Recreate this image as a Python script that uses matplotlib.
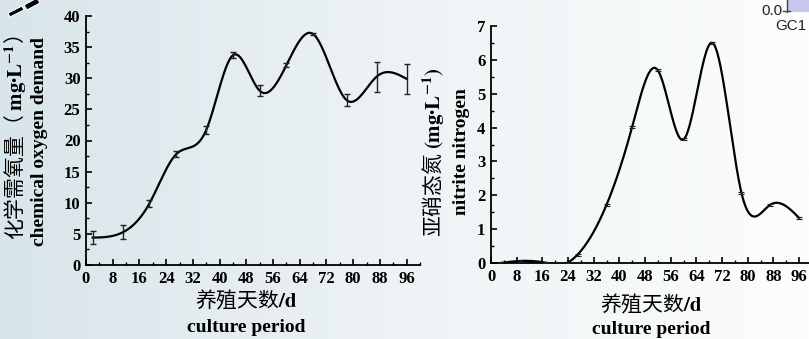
import numpy as np
import matplotlib
matplotlib.use("Agg")
import matplotlib.pyplot as plt
from matplotlib.ticker import MultipleLocator
from matplotlib.patches import Polygon, Rectangle
from matplotlib.font_manager import FontProperties

# ---------------- data ----------------
cod_days = [2, 11, 19, 27, 36, 44, 52, 60, 68, 78, 87, 96]
cod_vals = [4.4, 5.25, 9.9, 17.8, 21.7, 33.7, 28.0, 32.1, 37.1, 26.5, 30.25, 29.9]
cod_err = [1.0, 1.15, 0.6, 0.5, 0.6, 0.5, 0.9, 0.3, 0.2, 1.0, 2.4, 2.45]

no2_days = [3, 9, 17, 24, 27, 36, 44, 52, 60, 69, 78, 87, 96]
no2_vals = [0.0, 0.06, 0.01, 0.02, 0.25, 1.72, 4.03, 5.69, 3.65, 6.5, 2.08, 1.72, 1.33]
no2_err = [0.02, 0.02, 0.02, 0.02, 0.03, 0.03, 0.03, 0.03, 0.03, 0.04, 0.03, 0.03, 0.03]

x_ticks = [0, 8, 16, 24, 32, 40, 48, 56, 64, 72, 80, 88, 96]


def natural_spline(x, y, xs):
    x = np.asarray(x, float)
    y = np.asarray(y, float)
    n = len(x)
    h = np.diff(x)
    A = np.zeros((n, n))
    r = np.zeros(n)
    A[0, 0] = 1
    A[-1, -1] = 1
    for i in range(1, n - 1):
        A[i, i - 1] = h[i - 1]
        A[i, i] = 2 * (h[i - 1] + h[i])
        A[i, i + 1] = h[i]
        r[i] = 6 * ((y[i + 1] - y[i]) / h[i] - (y[i] - y[i - 1]) / h[i - 1])
    M = np.linalg.solve(A, r)
    idx = np.clip(np.searchsorted(x, xs) - 1, 0, n - 2)
    x0, x1 = x[idx], x[idx + 1]
    hh = x1 - x0
    return (M[idx] * (x1 - xs) ** 3 / (6 * hh) + M[idx + 1] * (xs - x0) ** 3 / (6 * hh)
            + (y[idx] / hh - M[idx] * hh / 6) * (x1 - xs)
            + (y[idx + 1] / hh - M[idx + 1] * hh / 6) * (xs - x0))


plt.rcParams['mathtext.fontset'] = 'stix'

W, H = 809, 339
fig = plt.figure(figsize=(W / 100, H / 100), dpi=100)

# background gradient
bg = fig.add_axes([0, 0, 1, 1], zorder=-10)
xs_bg = np.linspace(0, 1, 400)
c_left = np.array([216, 229, 234]) / 255
c_mid = np.array([238, 243, 245]) / 255
c_right = np.array([252, 253, 253]) / 255
grad = np.zeros((2, 400, 3))
for k, t in enumerate(xs_bg):
    if t < 0.5:
        c = c_left + (c_mid - c_left) * (t / 0.5)
    else:
        c = c_mid + (c_right - c_mid) * ((t - 0.5) / 0.5)
    grad[:, k, :] = c
bg.imshow(grad, aspect='auto', extent=[0, 1, 0, 1])
bg.set_xlim(0, 1)
bg.set_ylim(0, 1)
bg.axis('off')


def P(px, py):
    return (px / W, 1 - py / H)


# decorations (screenshot remnants)
bg.add_patch(Polygon([P(8, 13), P(22, 6), P(24, 10), P(10, 17)], closed=True,
                     facecolor='black', edgecolor='white', lw=0.8, transform=fig.transFigure))
bg.add_patch(Polygon([P(24, 5), P(37, -2), P(40, 3), P(27, 10)], closed=True,
                     facecolor='black', edgecolor='white', lw=0.8, transform=fig.transFigure))
bg.add_patch(Rectangle(P(787, 12), 25 / W, 14 / H, facecolor='#c9c6ee', edgecolor='none',
                       transform=fig.transFigure))
bg.plot([787 / W, 787 / W], [1 - 12 / H, 1.0], color='#444444', lw=1, transform=fig.transFigure)
bg.plot([783 / W, 790 / W], [1 - 11 / H, 1 - 11 / H], color='#444444', lw=1, transform=fig.transFigure)
fig.text(782 / W, 1 - 11 / H, '0.0', family='Liberation Sans', fontsize=11, ha='right', va='center', color='#222222')
fig.text(806 / W, 1 - 26 / H, 'GC1', family='Liberation Sans', fontsize=11, ha='right', va='center', color='#222222')

tick_fp = FontProperties(family='Liberation Serif', weight='bold', size=12)


def style_axes(ax, xmax, ymax, ymajor, yminor):
    ax.set_facecolor('none')
    ax.set_xlim(0, xmax)
    ax.set_ylim(0, ymax)
    for s in ['top', 'right']:
        ax.spines[s].set_visible(False)
    for s in ['left', 'bottom']:
        ax.spines[s].set_linewidth(1.3)
    ax.set_xticks(x_ticks)
    ax.xaxis.set_minor_locator(MultipleLocator(4))
    ax.yaxis.set_major_locator(MultipleLocator(ymajor))
    ax.yaxis.set_minor_locator(MultipleLocator(yminor))
    ax.tick_params(which='major', direction='in', length=4, width=1.2, pad=4)
    ax.tick_params(which='minor', direction='in', length=2, width=1.0)
    for lab in ax.get_xticklabels() + ax.get_yticklabels():
        lab.set_fontproperties(tick_fp)


# ---------------- left: COD ----------------
ax1 = fig.add_axes([86 / W, 1 - 265 / H, 334 / W, 249 / H])
style_axes(ax1, 100, 40, 5, 2.5)
xs = np.linspace(cod_days[0], cod_days[-1], 600)
ax1.plot(xs, natural_spline(cod_days, cod_vals, xs), color='black', lw=1.6, zorder=3)
ax1.errorbar(cod_days, cod_vals, yerr=cod_err, fmt='none', ecolor='#222222', elinewidth=1.0,
             capsize=2.5, capthick=1.0, zorder=4)

# ---------------- right: nitrite ----------------
ax2 = fig.add_axes([491 / W, 1 - 263 / H, 321 / W, 237 / H])
style_axes(ax2, 100, 7, 1, 0.5)
xs2 = np.linspace(no2_days[0], no2_days[-1], 600)
ax2.plot(xs2, natural_spline(no2_days, no2_vals, xs2), color='black', lw=1.6, zorder=3)
ax2.errorbar(no2_days, no2_vals, yerr=no2_err, fmt='none', ecolor='#222222', elinewidth=0.8,
             capsize=2.0, capthick=0.8, zorder=4)

# ---------------- labels ----------------
cjk = ['Noto Sans CJK SC', 'DejaVu Sans']
eng = dict(family='Liberation Serif', weight='bold', fontsize=14)

fig.text(15 / W, 1 - 138 / H, '化学需氧量（ $\\mathbf{mg·L^{-1}}$）', family=cjk, fontsize=15,
         rotation=90, ha='center', va='center')
fig.text(40 / W, 1 - 141 / H, 'chemical oxygen demand', rotation=90, ha='center', va='center', **eng)

fig.text(433 / W, 1 - 152 / H, '亚硝态氮 $\\mathbf{(mg·L^{-1})}$', family=cjk, fontsize=15,
         rotation=90, ha='center', va='center')
fig.text(461 / W, 1 - 152 / H, 'nitrite nitrogen', rotation=90, ha='center', va='center', **eng)

fig.text(246 / W, 1 - 300 / H, '养殖天数$\\mathbf{/d}$', family=cjk, fontsize=15, ha='center', va='center')
fig.text(246 / W, 1 - 327 / H, 'culture period', ha='center', va='center', **eng)

fig.text(651 / W, 1 - 304 / H, '养殖天数$\\mathbf{/d}$', family=cjk, fontsize=15, ha='center', va='center')
fig.text(651 / W, 1 - 329 / H, 'culture period', ha='center', va='center', **eng)

fig.savefig('out.png', dpi=100)
